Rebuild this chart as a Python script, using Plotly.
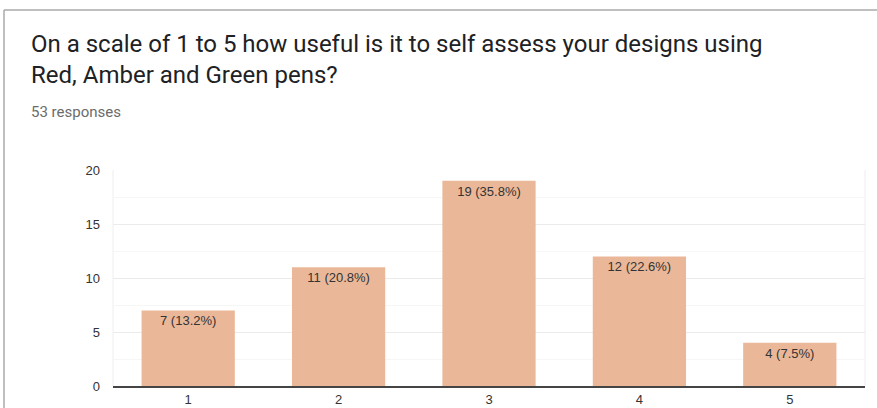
import plotly.graph_objects as go

categories = ["1", "2", "3", "4", "5"]
counts = [7, 11, 19, 12, 4]
percents = ["13.2%", "20.8%", "35.8%", "22.6%", "7.5%"]
y_ticks = [0, 5, 10, 15, 20]

labels = [f"{c} ({p})" for c, p in zip(counts, percents)]

fig = go.Figure()
fig.add_trace(go.Bar(
    x=categories, y=counts, text=labels,
    textposition="inside", insidetextanchor="end",
    textfont=dict(family="Liberation Sans, Arial", size=13, color="#333333"),
    marker=dict(color="#EAB899", line=dict(width=0)),
    width=0.62, hoverinfo="skip",
))

W, H = 877, 408
L, R, T, B = 113, 12, 170, 22
pw, ph = W - L - R, H - T - B

def px(x):
    return (x - L) / pw

def py(y):
    return (H - B - y) / ph

fig.update_layout(
    width=W, height=H, autosize=False,
    margin=dict(l=L, r=R, t=T, b=B, autoexpand=False),
    paper_bgcolor="white", plot_bgcolor="white",
    showlegend=False,
    xaxis=dict(
        type="category", showgrid=False, showline=True, linecolor="#444444", linewidth=2,
        ticks="", ticklabelstandoff=0, automargin=False,
        tickfont=dict(family="Liberation Sans, Arial", size=13, color="#333333"),
        fixedrange=True,
    ),
    yaxis=dict(
        range=[0, 20], tickvals=y_ticks, showgrid=True, gridcolor="#ebebeb", gridwidth=1,
        zeroline=False, ticks="", ticklabelstandoff=12, automargin=False,
        tickfont=dict(family="Liberation Sans, Arial", size=13, color="#333333"),
        minor=dict(dtick=2.5, showgrid=True, gridcolor="#f6f6f6", gridwidth=1),
        fixedrange=True,
    ),
    shapes=[
        dict(type="line", xref="paper", yref="paper", x0=px(4), x1=px(877), y0=py(10), y1=py(10),
             line=dict(color="#aaaaaa", width=1.5)),
        dict(type="line", xref="paper", yref="paper", x0=px(4), x1=px(4), y0=py(10), y1=py(408),
             line=dict(color="#aaaaaa", width=1.5)),
        dict(type="line", xref="paper", yref="paper", x0=1, x1=1, y0=0, y1=1,
             line=dict(color="#eeeeee", width=1), layer="below"),
        dict(type="line", xref="paper", yref="paper", x0=0, x1=0, y0=0, y1=1,
             line=dict(color="#eeeeee", width=1), layer="below"),
    ],
    annotations=[
        dict(text="On a scale of 1 to 5 how useful is it to self assess your designs using<br>Red, Amber and Green pens?",
             xref="paper", yref="paper", x=px(29), y=py(28), xanchor="left", yanchor="top",
             align="left", showarrow=False,
             font=dict(family="Roboto", size=24, color="#202124")),
        dict(text="53 responses", xref="paper", yref="paper", x=px(29), y=py(101),
             xanchor="left", yanchor="top", align="left", showarrow=False,
             font=dict(family="Roboto", size=15, color="#6b6b6b")),
    ],
)

fig.write_html(
    "out.html",
    config={"displayModeBar": False, "responsive": False, "staticPlot": True},
    post_script="document.body.style.margin='0';document.body.style.padding='0';document.body.style.overflow='hidden';",
)
